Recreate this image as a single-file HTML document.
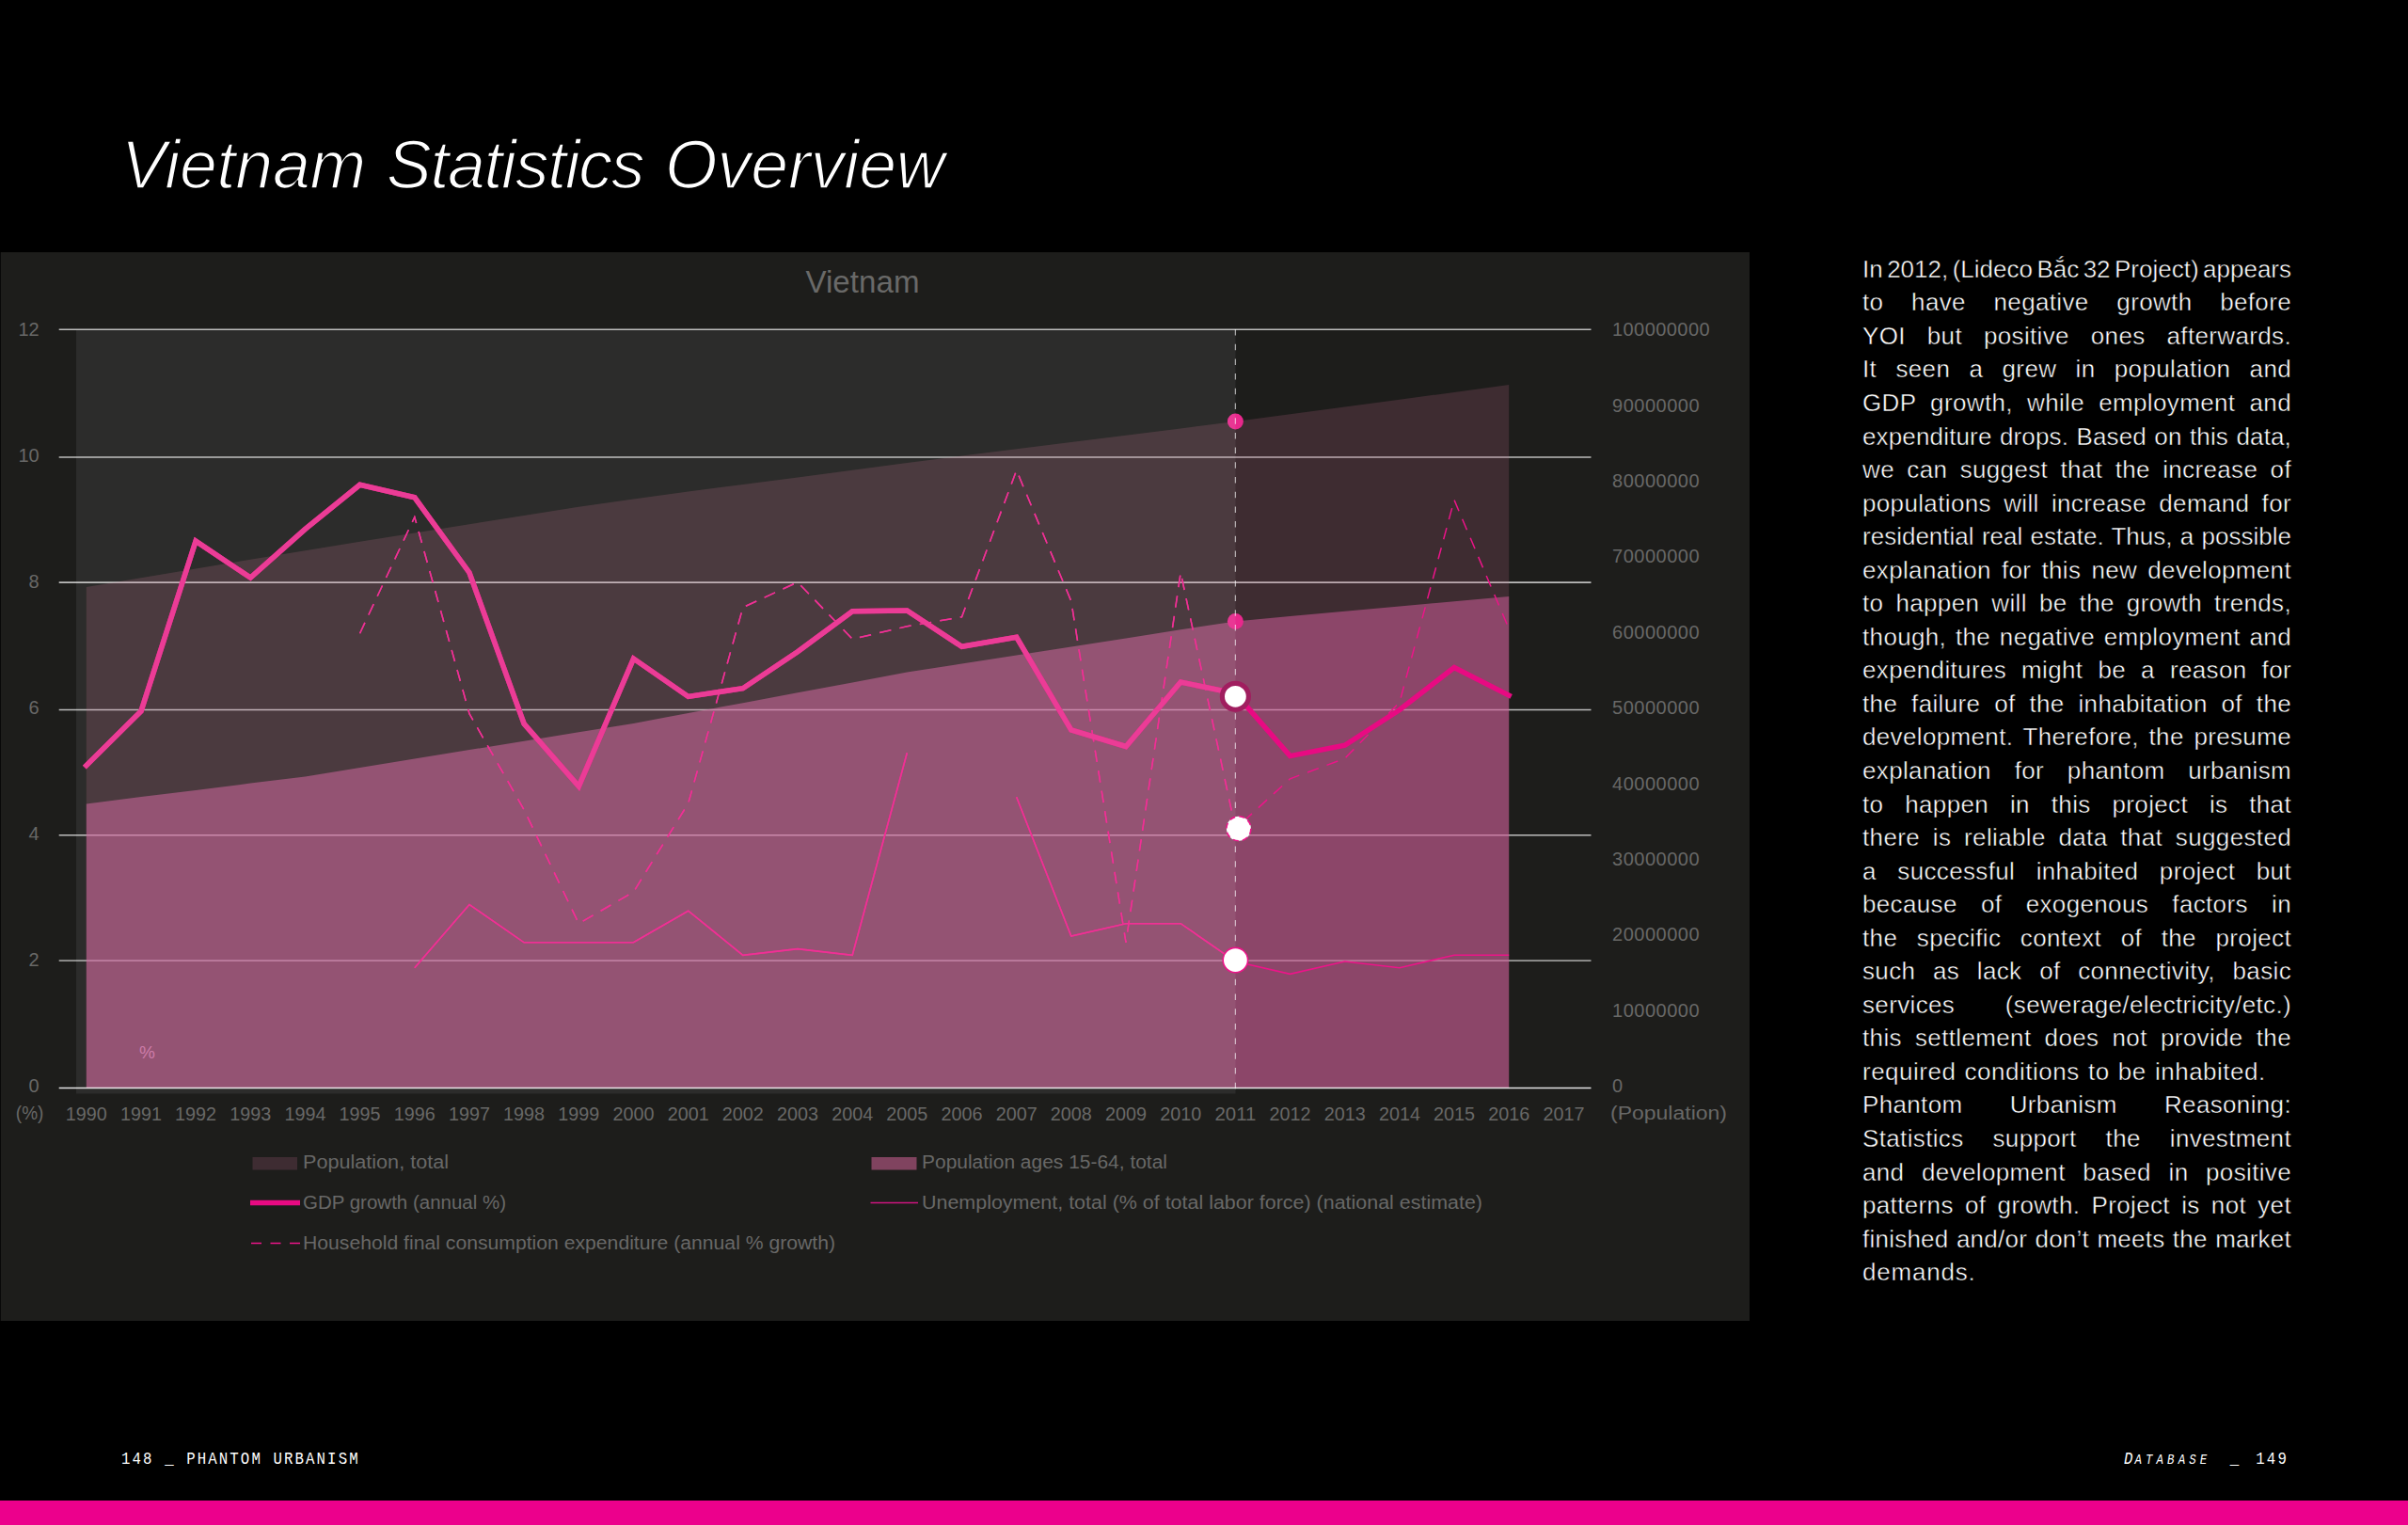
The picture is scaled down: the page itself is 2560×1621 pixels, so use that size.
<!DOCTYPE html>
<html lang="en"><head><meta charset="utf-8"><title>Vietnam Statistics Overview</title>
<style>
html,body{margin:0;padding:0;background:#000;}
body{width:2560px;height:1621px;position:relative;overflow:hidden;font-family:"Liberation Sans",sans-serif;}
h1{position:absolute;left:0;top:135px;margin:0;font-weight:normal;font-style:italic;font-size:71.5px;line-height:80px;color:#fff;white-space:nowrap;-webkit-text-stroke:1.6px #000;}
h1 span{position:absolute;top:0;}
.body{-webkit-text-stroke:0.45px #000;position:absolute;left:1980px;top:268.8px;width:456px;color:#fff;font-size:26px;line-height:35.55px;}
.ln{letter-spacing:0.35px;text-align:justify;text-align-last:justify;white-space:nowrap;height:35.55px;overflow:visible;}
.ln.last{text-align:left;text-align-last:left;}
.foot{position:absolute;top:1539.5px;transform:scaleX(0.85);transform-origin:0 0;color:#fff;font-family:"Liberation Mono",monospace;font-size:18.5px;line-height:24px;white-space:pre;letter-spacing:2.465px;}
.bar{position:absolute;left:0;top:1594.8px;width:2560px;height:27px;background:#ec008c;}
</style></head><body>
<h1><span style="left:129px;letter-spacing:-0.15px">Vietnam</span> <span style="left:411px;letter-spacing:-1.28px">Statistics</span> <span style="left:707px;letter-spacing:-0.07px">Overview</span></h1>
<svg width="1860" height="1137" viewBox="0 267 1860 1137" style="position:absolute;left:0;top:267px" font-family="'Liberation Sans', sans-serif"><defs><clipPath id="clipL"><rect x="0" y="267" width="1313.5" height="1137"/></clipPath><clipPath id="clipR"><rect x="1313.5" y="267" width="546.5" height="1137"/></clipPath></defs><rect x="0.7" y="268.1" width="1859.3" height="1136" fill="#1d1d1b"/><line x1="62.7" x2="1691.5" y1="1021.1" y2="1021.1" stroke="#fff" stroke-opacity="0.55" stroke-width="1.6"/><line x1="62.7" x2="1691.5" y1="887.8" y2="887.8" stroke="#fff" stroke-opacity="0.71" stroke-width="1.6"/><line x1="62.7" x2="1691.5" y1="754.5" y2="754.5" stroke="#fff" stroke-opacity="0.71" stroke-width="1.6"/><line x1="62.7" x2="1691.5" y1="619.1" y2="619.1" stroke="#fff" stroke-opacity="0.71" stroke-width="1.6"/><line x1="62.7" x2="1691.5" y1="486.0" y2="486.0" stroke="#fff" stroke-opacity="0.71" stroke-width="1.6"/><line x1="62.7" x2="1691.5" y1="350.3" y2="350.3" stroke="#fff" stroke-opacity="0.71" stroke-width="1.6"/><polygon points="91.8,1156.4 91.8,624.0 150.0,614.2 208.1,604.4 266.3,594.8 324.5,585.3 382.6,575.8 440.8,566.4 499.0,557.2 557.1,547.9 615.3,538.7 673.5,530.4 731.7,522.4 789.8,515.0 848.0,507.5 906.2,499.7 964.3,492.0 1022.5,484.6 1080.7,477.2 1138.8,470.0 1197.0,462.7 1255.2,455.4 1313.4,447.9 1371.5,440.2 1429.7,432.6 1487.9,424.8 1546.0,416.9 1604.2,408.9 1604.2,1156.4" fill="rgb(194,104,142)" fill-opacity="0.2"/><polygon points="91.8,1156.4 91.8,854.4 150.0,847.1 208.1,839.9 266.3,832.6 324.5,825.4 382.6,816.0 440.8,806.6 499.0,797.1 557.1,787.7 615.3,778.3 673.5,768.9 731.7,758.0 789.8,747.2 848.0,736.3 906.2,725.4 964.3,714.5 1022.5,705.5 1080.7,696.4 1138.8,687.4 1197.0,678.4 1255.2,669.3 1313.4,660.5 1371.5,655.1 1429.7,649.8 1487.9,644.5 1546.0,639.2 1604.2,633.9 1604.2,1156.4" fill="rgb(208,93,155)" fill-opacity="0.535"/><line x1="62.7" x2="1691.5" y1="1156.5" y2="1156.5" stroke="#fff" stroke-opacity="0.88" stroke-width="1.4"/><polyline points="382.6,673.2 440.8,549.6 499.0,758.6 557.1,860.7 615.3,981.7 673.5,948.1 731.7,854.0 789.8,645.7 848.0,618.8 906.2,679.3 964.3,665.8 1022.5,655.8 1080.7,499.9 1138.8,639.0 1197.0,1001.8 1255.2,608.7 1313.4,880.9 1371.5,827.8 1429.7,806.3 1487.9,746.5 1546.0,531.4 1604.2,668.5" fill="none" stroke="#ec1489" stroke-width="1.5" stroke-dasharray="12.5 9.3"/><polyline points="440.8,1028.7 499.0,961.5 557.1,1001.8 615.3,1001.8 673.5,1001.8 731.7,968.2 789.8,1015.3 848.0,1008.6 906.2,1015.3 964.3,800.2" fill="none" stroke="#ec1489" stroke-width="1.6"/><polyline points="1080.7,847.3 1138.8,995.1 1197.0,981.7 1255.2,981.7 1313.4,1022.0 1371.5,1035.4 1429.7,1022.0 1487.9,1028.7 1546.0,1015.3 1604.2,1015.3" fill="none" stroke="#ec1489" stroke-width="1.6"/><polyline points="91.8,813.7 150.0,755.9 208.1,575.1 266.3,614.1 324.5,562.4 382.6,515.3 440.8,528.8 499.0,608.7 557.1,769.3 615.3,835.9 673.5,700.1 731.7,740.4 789.8,731.7 848.0,692.7 906.2,649.7 964.3,649.0 1022.5,687.3 1080.7,677.3 1138.8,776.0 1197.0,793.5 1255.2,725.0 1313.4,737.1 1371.5,803.6 1429.7,792.2 1487.9,754.5 1546.0,709.5 1604.2,739.1" fill="none" stroke="#e80a82" stroke-width="5.5" stroke-linejoin="miter" stroke-linecap="square"/><circle cx="1313.4" cy="447.9" r="8.5" fill="#e8288c"/><circle cx="1313.4" cy="660.5" r="8.5" fill="#e8288c"/><rect x="81" y="351" width="1232.5" height="811.5" fill="#fff" fill-opacity="0.07"/><g clip-path="url(#clipL)"><polyline points="382.6,673.2 440.8,549.6 499.0,758.6 557.1,860.7 615.3,981.7 673.5,948.1 731.7,854.0 789.8,645.7 848.0,618.8 906.2,679.3 964.3,665.8 1022.5,655.8 1080.7,499.9 1138.8,639.0 1197.0,1001.8 1255.2,608.7 1313.4,880.9 1371.5,827.8 1429.7,806.3 1487.9,746.5 1546.0,531.4 1604.2,668.5" fill="none" stroke="#ee3294" stroke-width="1.5" stroke-dasharray="12.5 9.3"/><polyline points="440.8,1028.7 499.0,961.5 557.1,1001.8 615.3,1001.8 673.5,1001.8 731.7,968.2 789.8,1015.3 848.0,1008.6 906.2,1015.3 964.3,800.2" fill="none" stroke="#ee3294" stroke-width="1.6"/><polyline points="1080.7,847.3 1138.8,995.1 1197.0,981.7 1255.2,981.7 1313.4,1022.0 1371.5,1035.4 1429.7,1022.0 1487.9,1028.7 1546.0,1015.3 1604.2,1015.3" fill="none" stroke="#ee3294" stroke-width="1.6"/><polyline points="91.8,813.7 150.0,755.9 208.1,575.1 266.3,614.1 324.5,562.4 382.6,515.3 440.8,528.8 499.0,608.7 557.1,769.3 615.3,835.9 673.5,700.1 731.7,740.4 789.8,731.7 848.0,692.7 906.2,649.7 964.3,649.0 1022.5,687.3 1080.7,677.3 1138.8,776.0 1197.0,793.5 1255.2,725.0 1313.4,737.1 1371.5,803.6 1429.7,792.2 1487.9,754.5 1546.0,709.5 1604.2,739.1" fill="none" stroke="#eb3c96" stroke-width="5.5" stroke-linejoin="miter" stroke-linecap="square"/></g><line x1="1313.4" x2="1313.4" y1="350" y2="1161" stroke="#fff" stroke-opacity="0.6" stroke-width="1.25" stroke-dasharray="6.5 9.2"/><circle cx="1313.4" cy="740.3" r="14" fill="#fff" stroke="#a01e5f" stroke-width="5.2"/><circle cx="1316.9" cy="880.8" r="13" fill="#fff" stroke="#ec1489" stroke-width="1.6" stroke-dasharray="6 4.2"/><circle cx="1313.4" cy="1020.6" r="13.2" fill="#fff" stroke="#ec1489" stroke-width="1.6"/><text x="917" y="311" font-size="33.7" text-anchor="middle" fill="#696968" textLength="121" lengthAdjust="spacingAndGlyphs">Vietnam</text><text x="41.7" y="1161.0" font-size="20" text-anchor="end" fill="#686867">0</text><text x="41.7" y="1026.9" font-size="20" text-anchor="end" fill="#686867">2</text><text x="41.7" y="892.9" font-size="20" text-anchor="end" fill="#686867">4</text><text x="41.7" y="758.8" font-size="20" text-anchor="end" fill="#686867">6</text><text x="41.7" y="624.8" font-size="20" text-anchor="end" fill="#686867">8</text><text x="41.7" y="490.7" font-size="20" text-anchor="end" fill="#686867">10</text><text x="41.7" y="356.6" font-size="20" text-anchor="end" fill="#686867">12</text><text x="31.6" y="1189.6" font-size="20" text-anchor="middle" fill="#686867" textLength="29.5" lengthAdjust="spacingAndGlyphs">(%)</text><text x="1714" y="1161.1" font-size="20" text-anchor="start" fill="#686867">0</text><text x="1714" y="1080.7" font-size="20" text-anchor="start" fill="#686867" textLength="92.5" lengthAdjust="spacing">10000000</text><text x="1714" y="1000.3" font-size="20" text-anchor="start" fill="#686867" textLength="92.5" lengthAdjust="spacing">20000000</text><text x="1714" y="919.9" font-size="20" text-anchor="start" fill="#686867" textLength="92.5" lengthAdjust="spacing">30000000</text><text x="1714" y="839.5" font-size="20" text-anchor="start" fill="#686867" textLength="92.5" lengthAdjust="spacing">40000000</text><text x="1714" y="759.1" font-size="20" text-anchor="start" fill="#686867" textLength="92.5" lengthAdjust="spacing">50000000</text><text x="1714" y="678.8" font-size="20" text-anchor="start" fill="#686867" textLength="92.5" lengthAdjust="spacing">60000000</text><text x="1714" y="598.4" font-size="20" text-anchor="start" fill="#686867" textLength="92.5" lengthAdjust="spacing">70000000</text><text x="1714" y="518.0" font-size="20" text-anchor="start" fill="#686867" textLength="92.5" lengthAdjust="spacing">80000000</text><text x="1714" y="437.6" font-size="20" text-anchor="start" fill="#686867" textLength="92.5" lengthAdjust="spacing">90000000</text><text x="1714" y="357.2" font-size="20" text-anchor="start" fill="#686867" textLength="103.6" lengthAdjust="spacing">100000000</text><text x="1712" y="1189.8" font-size="20" text-anchor="start" fill="#686867" textLength="124" lengthAdjust="spacingAndGlyphs">(Population)</text><text x="91.8" y="1190.5" font-size="20" text-anchor="middle" fill="#686867" textLength="44" lengthAdjust="spacingAndGlyphs">1990</text><text x="150.0" y="1190.5" font-size="20" text-anchor="middle" fill="#686867" textLength="44" lengthAdjust="spacingAndGlyphs">1991</text><text x="208.1" y="1190.5" font-size="20" text-anchor="middle" fill="#686867" textLength="44" lengthAdjust="spacingAndGlyphs">1992</text><text x="266.3" y="1190.5" font-size="20" text-anchor="middle" fill="#686867" textLength="44" lengthAdjust="spacingAndGlyphs">1993</text><text x="324.5" y="1190.5" font-size="20" text-anchor="middle" fill="#686867" textLength="44" lengthAdjust="spacingAndGlyphs">1994</text><text x="382.6" y="1190.5" font-size="20" text-anchor="middle" fill="#686867" textLength="44" lengthAdjust="spacingAndGlyphs">1995</text><text x="440.8" y="1190.5" font-size="20" text-anchor="middle" fill="#686867" textLength="44" lengthAdjust="spacingAndGlyphs">1996</text><text x="499.0" y="1190.5" font-size="20" text-anchor="middle" fill="#686867" textLength="44" lengthAdjust="spacingAndGlyphs">1997</text><text x="557.1" y="1190.5" font-size="20" text-anchor="middle" fill="#686867" textLength="44" lengthAdjust="spacingAndGlyphs">1998</text><text x="615.3" y="1190.5" font-size="20" text-anchor="middle" fill="#686867" textLength="44" lengthAdjust="spacingAndGlyphs">1999</text><text x="673.5" y="1190.5" font-size="20" text-anchor="middle" fill="#686867" textLength="44" lengthAdjust="spacingAndGlyphs">2000</text><text x="731.7" y="1190.5" font-size="20" text-anchor="middle" fill="#686867" textLength="44" lengthAdjust="spacingAndGlyphs">2001</text><text x="789.8" y="1190.5" font-size="20" text-anchor="middle" fill="#686867" textLength="44" lengthAdjust="spacingAndGlyphs">2002</text><text x="848.0" y="1190.5" font-size="20" text-anchor="middle" fill="#686867" textLength="44" lengthAdjust="spacingAndGlyphs">2003</text><text x="906.2" y="1190.5" font-size="20" text-anchor="middle" fill="#686867" textLength="44" lengthAdjust="spacingAndGlyphs">2004</text><text x="964.3" y="1190.5" font-size="20" text-anchor="middle" fill="#686867" textLength="44" lengthAdjust="spacingAndGlyphs">2005</text><text x="1022.5" y="1190.5" font-size="20" text-anchor="middle" fill="#686867" textLength="44" lengthAdjust="spacingAndGlyphs">2006</text><text x="1080.7" y="1190.5" font-size="20" text-anchor="middle" fill="#686867" textLength="44" lengthAdjust="spacingAndGlyphs">2007</text><text x="1138.8" y="1190.5" font-size="20" text-anchor="middle" fill="#686867" textLength="44" lengthAdjust="spacingAndGlyphs">2008</text><text x="1197.0" y="1190.5" font-size="20" text-anchor="middle" fill="#686867" textLength="44" lengthAdjust="spacingAndGlyphs">2009</text><text x="1255.2" y="1190.5" font-size="20" text-anchor="middle" fill="#686867" textLength="44" lengthAdjust="spacingAndGlyphs">2010</text><text x="1313.4" y="1190.5" font-size="20" text-anchor="middle" fill="#686867" textLength="44" lengthAdjust="spacingAndGlyphs">2011</text><text x="1371.5" y="1190.5" font-size="20" text-anchor="middle" fill="#686867" textLength="44" lengthAdjust="spacingAndGlyphs">2012</text><text x="1429.7" y="1190.5" font-size="20" text-anchor="middle" fill="#686867" textLength="44" lengthAdjust="spacingAndGlyphs">2013</text><text x="1487.9" y="1190.5" font-size="20" text-anchor="middle" fill="#686867" textLength="44" lengthAdjust="spacingAndGlyphs">2014</text><text x="1546.0" y="1190.5" font-size="20" text-anchor="middle" fill="#686867" textLength="44" lengthAdjust="spacingAndGlyphs">2015</text><text x="1604.2" y="1190.5" font-size="20" text-anchor="middle" fill="#686867" textLength="44" lengthAdjust="spacingAndGlyphs">2016</text><text x="1662.4" y="1190.5" font-size="20" text-anchor="middle" fill="#686867" textLength="44" lengthAdjust="spacingAndGlyphs">2017</text><text x="148" y="1125" font-size="19" text-anchor="start" fill="#cc7ca8">%</text><rect x="268.5" y="1230" width="47.5" height="13.5" fill="#3e2c32"/><text x="322" y="1242" font-size="20" text-anchor="start" fill="#686867" textLength="155" lengthAdjust="spacingAndGlyphs">Population, total</text><rect x="926.5" y="1230" width="48" height="13.5" fill="#80435f"/><text x="980" y="1242" font-size="20" text-anchor="start" fill="#686867" textLength="261" lengthAdjust="spacingAndGlyphs">Population ages 15-64, total</text><line x1="266" x2="319" y1="1278.5" y2="1278.5" stroke="#e80a82" stroke-width="5.5"/><text x="322" y="1285" font-size="20" text-anchor="start" fill="#686867" textLength="216" lengthAdjust="spacingAndGlyphs">GDP growth (annual %)</text><line x1="925.5" x2="976" y1="1278.5" y2="1278.5" stroke="#cf1480" stroke-width="1.5"/><text x="980" y="1285" font-size="20" text-anchor="start" fill="#686867" textLength="596" lengthAdjust="spacingAndGlyphs">Unemployment, total (% of total labor force) (national estimate)</text><line x1="267" x2="319" y1="1321.5" y2="1321.5" stroke="#ec1489" stroke-width="1.6" stroke-dasharray="11 9.5"/><text x="322" y="1328" font-size="20" text-anchor="start" fill="#686867" textLength="566" lengthAdjust="spacingAndGlyphs">Household final consumption expenditure (annual % growth)</text></svg>
<div class="body">
<div class="ln" style="letter-spacing:0;word-spacing:-3.2px">In 2012, (Lideco Bắc 32 Project) appears</div>
<div class="ln">to have negative growth before</div>
<div class="ln">YOI but positive ones afterwards.</div>
<div class="ln">It seen a grew in population and</div>
<div class="ln">GDP growth, while employment and</div>
<div class="ln" style="letter-spacing:0.15px">expenditure drops. Based on this data,</div>
<div class="ln">we can suggest that the increase of</div>
<div class="ln">populations will increase demand for</div>
<div class="ln" style="letter-spacing:0.01px">residential real estate. Thus, a possible</div>
<div class="ln">explanation for this new development</div>
<div class="ln">to happen will be the growth trends,</div>
<div class="ln">though, the negative employment and</div>
<div class="ln">expenditures might be a reason for</div>
<div class="ln">the failure of the inhabitation of the</div>
<div class="ln">development. Therefore, the presume</div>
<div class="ln">explanation for phantom urbanism</div>
<div class="ln">to happen in this project is that</div>
<div class="ln">there is reliable data that suggested</div>
<div class="ln">a successful inhabited project but</div>
<div class="ln">because of exogenous factors in</div>
<div class="ln">the specific context of the project</div>
<div class="ln">such as lack of connectivity, basic</div>
<div class="ln">services (sewerage/electricity/etc.)</div>
<div class="ln">this settlement does not provide the</div>
<div class="ln last" style="letter-spacing:0.5px;word-spacing:1.5px">required conditions to be inhabited.</div>
<div class="ln">Phantom Urbanism Reasoning:</div>
<div class="ln">Statistics support the investment</div>
<div class="ln">and development based in positive</div>
<div class="ln">patterns of growth. Project is not yet</div>
<div class="ln" style="letter-spacing:0.23px">finished and/or don’t meets the market</div>
<div class="ln last" style="letter-spacing:0.8px">demands.</div>
</div>
<div class="foot" id="fl" style="left:128.5px;">148 _ PHANTOM URBANISM</div>
<div class="foot" id="fr" style="left:2257.5px;"><i>D</i><i style="font-size:14.6px;letter-spacing:4.8px">ATABASE</i>  <span style="margin-left:-3px">_</span> <span style="margin-left:5.3px">149</span></div>
<div class="bar"></div>
</body></html>
